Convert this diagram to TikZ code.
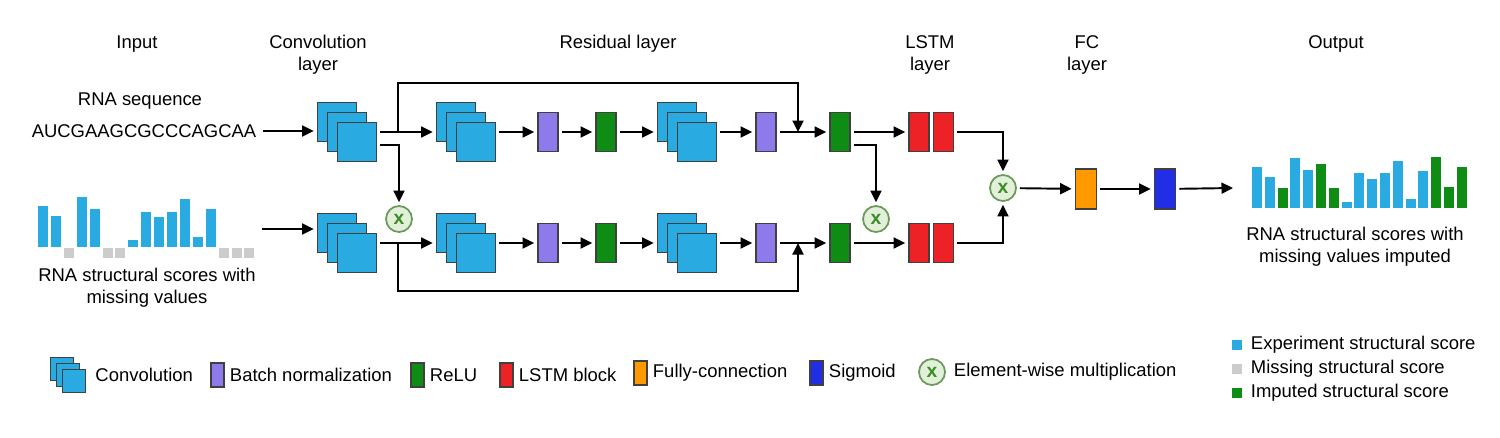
\documentclass[tikz,border=0pt]{standalone}
\usepackage{fontspec}
\setmainfont{Liberation Sans}
\usetikzlibrary{positioning, arrows.meta}

\definecolor{convblue}{RGB}{41,171,226}
\definecolor{bnpurple}{RGB}{143,122,235}
\definecolor{relugreen}{RGB}{15,140,20}
\definecolor{lstmred}{RGB}{236,34,39}
\definecolor{fcorange}{RGB}{255,153,0}
\definecolor{sigblue}{RGB}{34,46,230}
\definecolor{missgray}{RGB}{204,204,204}
\definecolor{multfill}{RGB}{226,240,218}
\definecolor{multedge}{RGB}{106,154,90}
\definecolor{multx}{RGB}{60,140,40}

\begin{document}
\begin{tikzpicture}[x=0.02cm, y=-0.02cm, line width=1.1pt, >={Triangle[length=2.3mm, width=2.2mm]}, font=\fontsize{10.5}{12.6}\selectfont]
    % Define block styles
    \tikzstyle{box} = [draw=black!75, line width=1pt, inner sep=0pt, outer sep=2.2pt]
    \tikzstyle{conv} = [box, fill=convblue, minimum size=0.78cm]
    \tikzstyle{bn} = [box, fill=bnpurple, minimum width=0.4cm, minimum height=0.78cm]
    \tikzstyle{relu} = [bn, fill=relugreen]
    \tikzstyle{lstm} = [bn, fill=lstmred]
    \tikzstyle{fc} = [box, fill=fcorange, minimum width=0.42cm, minimum height=0.8cm]
    \tikzstyle{sig} = [fc, fill=sigblue]
    \tikzstyle{mult} = [circle, draw=multedge, line width=1pt, fill=multfill, minimum size=0.52cm, inner sep=0pt, outer sep=2.2pt, text=multx, font=\fontsize{11}{11}\selectfont\bfseries]
    \tikzstyle{key} = [box, minimum width=0.26cm, minimum height=0.48cm, outer sep=0pt]
    \tikzstyle{keyconv} = [box, fill=convblue, minimum size=0.46cm, outer sep=0pt]
    \tikzstyle{keylbl} = [inner sep=0pt]

    \useasboundingbox (0,0) rectangle (1500,437);

    % Headers
    \node (hinput) at (137,44) {Input};
    \node[align=center] (hconv) at (318,55) {Convolution\\layer};
    \node (hres) at (618,44) {Residual layer};
    \node[align=center] (hlstm) at (930,55) {LSTM\\layer};
    \node[align=center] (hfc) at (1087,55) {FC\\layer};
    \node (hout) at (1336,44) {Output};

    % Inputs
    \node (seqname) at (140,101) {RNA sequence};
    \node (seq) at (144,131) {AUCGAAGCGCCCAGCAA};
    \foreach \i/\h in {1/41,2/31,4/50,5/38,8/7,9/35,10/30,11/35,12/48,13/10,14/38}
        \fill[convblue] (38+12.9*\i-12.9,247) rectangle ++(10,-\h);
    \foreach \i in {3,6,7,15,16,17}
        \fill[missgray] (38+12.9*\i-12.9,248) rectangle ++(10,10);
    \coordinate (inchart) at (262,229);
    \node[align=center] (inname) at (147,288) {RNA structural scores with\\missing values};

    % Place nodes
    \foreach \n/\x/\y in {c1t/347/132, c2t/466/132, c3t/687/132, c1b/347/243, c2b/466/243, c3b/687/243} {
        \node[conv] (\n-a) at (\x-10,\y-10) {};
        \node[conv] (\n) at (\x,\y) {};
        \node[conv] (\n-c) at (\x+10,\y+10) {};
    }
    \node[bn] (bn1t) at (548,132) {};
    \node[relu] (relu1t) at (606,132) {};
    \node[bn] (bn2t) at (766,132) {};
    \node[relu] (relu2t) at (840,132) {};
    \node[bn] (bn1b) at (548,243) {};
    \node[relu] (relu1b) at (606,243) {};
    \node[bn] (bn2b) at (766,243) {};
    \node[relu] (relu2b) at (840,243) {};
    \node[lstm] (lstm1t) at (919,132) {};
    \node[lstm] (lstm2t) at (943.5,132) {};
    \node[lstm] (lstm1b) at (919,243) {};
    \node[lstm] (lstm2b) at (943.5,243) {};
    \node[mult] (m1) at (399,219) {x};
    \node[mult] (m2) at (876,219) {x};
    \node[mult] (m3) at (1003,188) {x};
    \node[fc] (fc) at (1086,189) {};
    \node[sig] (sig) at (1165,189) {};
    \coordinate (outchart) at (1233,188);

    \coordinate (r1) at (398,132);
    \coordinate (r2) at (798,132);
    \coordinate (r3) at (398,243);
    \coordinate (r4) at (798,243);

    % Draw connections as arrows
    \draw [->] (seq.east) -- (c1t-a.west |- seq.east);
    \draw [->] (inchart) -- (c1b-a.west |- inchart);
    \draw [->] (c1t-c.east |- c1t) -- (c2t-a.west |- c2t);
    \draw [->] (c1b-c.east |- c1b) -- (c2b-a.west |- c2b);
    \draw [->] ([yshift=-0.06cm]c1t-c.east) -| (m1.north);
    \draw [->] (r1) -- ++(0,-49) -| (r2);
    \draw [->] (r3) -- ++(0,48) -| (r4);
    \draw [->] (c2t-c.east |- c2t) -- (bn1t);
    \draw [->] (bn1t) -- (relu1t);
    \draw [->] (relu1t) -- (c3t-a.west |- c3t);
    \draw [->] (c3t-c.east |- c3t) -- (bn2t);
    \draw [->] (bn2t) -- (relu2t);
    \draw [->] (c2b-c.east |- c2b) -- (bn1b);
    \draw [->] (bn1b) -- (relu1b);
    \draw [->] (relu1b) -- (c3b-a.west |- c3b);
    \draw [->] (c3b-c.east |- c3b) -- (bn2b);
    \draw [->] (bn2b) -- (relu2b);
    \draw [->] (relu2t) -- (lstm1t);
    \draw [->] ([yshift=-0.26cm]relu2t.east) -| (m2.north);
    \draw [->] (relu2b) -- (lstm1b);
    \draw [->] (lstm2t.east) -| (m3.north);
    \draw [->] (lstm2b.east) -| (m3.south);
    \draw [->] (m3) -- (fc);
    \draw [->] (fc) -- (sig);
    \draw [->] (sig) -- (outchart);

    % Output
    \foreach \i/\h in {1/41,2/31,4/50,5/38,8/6,9/35,10/29,11/35,12/47,13/9,14/37}
        \fill[convblue] (1252+12.8*\i-12.8,208) rectangle ++(10,-\h);
    \foreach \i/\h in {3/20,6/44,7/20,15/51,16/21,17/41}
        \fill[relugreen] (1252+12.8*\i-12.8,208) rectangle ++(10,-\h);
    \node[align=center] (outname) at (1355,247) {RNA structural scores with\\missing values imputed};

    % Legend
    \node[keyconv] (lgconv-a) at (62,369) {};
    \node[keyconv] (lgconv-b) at (68,375) {};
    \node[keyconv] (lgconv) at (74,381) {};
    \node[keylbl, right=0.3cm of lgconv-b] (lgconvtxt) {Convolution};
    \node[key, fill=bnpurple] (lgbn) at (217.5,375) {};
    \node[keylbl, right=0.1cm of lgbn] (lgbntxt) {Batch normalization};
    \node[key, fill=relugreen] (lgrelu) at (417.5,375) {};
    \node[keylbl, right=0.1cm of lgrelu] (lgrelutxt) {ReLU};
    \node[key, fill=lstmred] (lglstm) at (506.5,375) {};
    \node[keylbl, right=0.1cm of lglstm] (lglstmtxt) {LSTM block};
    \node[key, fill=fcorange] (lgfc) at (640.5,373) {};
    \node[keylbl, right=0.1cm of lgfc] (lgfctxt) {Fully-connection};
    \node[key, fill=sigblue] (lgsig) at (816.5,373) {};
    \node[keylbl, right=0.1cm of lgsig] (lgsigtxt) {Sigmoid};
    \node[mult, outer sep=0pt] (lgmult) at (932,372) {x};
    \node[keylbl, right=0.16cm of lgmult] (lgmulttxt) {Element-wise multiplication};

    \fill[convblue] (1232,340) rectangle ++(10,10);
    \node[keylbl, anchor=west] (lgexp) at (1250,345) {Experiment structural score};
    \fill[missgray] (1232,364) rectangle ++(10,10);
    \node[keylbl, anchor=west] (lgmiss) at (1250,369) {Missing structural score};
    \fill[relugreen] (1232,388) rectangle ++(10,10);
    \node[keylbl, anchor=west] (lgimp) at (1250,393) {Imputed structural score};
\end{tikzpicture}
\end{document}
